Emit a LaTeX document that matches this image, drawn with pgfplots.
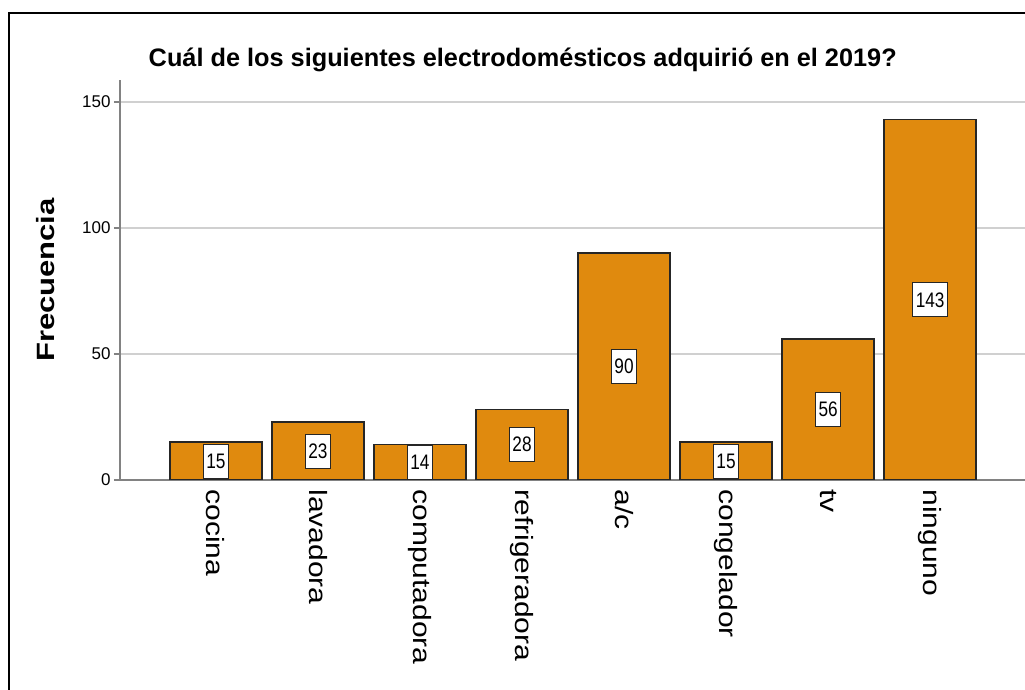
\documentclass[border=0pt]{standalone}
\usepackage{fontspec}
\setmainfont{Liberation Sans}
\newfontfamily\xlabfont[FakeStretch=1.2]{Liberation Sans}
\newfontfamily\boxfont[FakeStretch=0.82]{Liberation Sans}
\newfontfamily\ylabfont[FakeStretch=1.24,UprightFont=* Bold]{Liberation Sans}
\usepackage{pgfplots}
\pgfplotsset{compat=1.18}
\definecolor{barc}{RGB}{224,138,14}
\definecolor{gridc}{RGB}{208,208,208}
\definecolor{axc}{RGB}{130,130,130}
\begin{document}
\begin{tikzpicture}[x=1pt,y=1pt]
\begin{axis}[
  at={(120pt,210pt)}, anchor=south west,
  scale only axis, width=905pt, height=400pt,
  xmin=-0.94, xmax=7.93, ymin=0, ymax=158.7,
  axis x line*=bottom, axis y line*=left,
  axis line style={draw=axc, line width=1.5pt, -},
  ybar,
  ytick={0,50,100,150},
  ymajorgrids, grid style={gridc, line width=2.5pt},
  tick align=outside, major tick length=6pt,
  ytick style={draw=axc, line width=1.2pt},
  xtick style={draw=none},
  xtick={0,...,7},
  xticklabels={cocina,lavadora,computadora,refrigeradora,a/c,congelador,tv,ninguno},
  xticklabel style={rotate=-90, anchor=west, font=\xlabfont\fontsize{25}{28}\selectfont},
  yticklabel style={font=\fontsize{17}{20}\selectfont},
  /pgf/number format/assume math mode=true,
  title={Cuál de los siguientes electrodomésticos adquirió en el 2019?},
  title style={at={(axis description cs:0.445,1.0175)}, anchor=base, font=\bfseries\fontsize{25.3}{30}\selectfont},
  ylabel={Frecuencia},
  ylabel style={at={(axis description cs:-0.0818,0.5)}, anchor=center, font=\ylabfont\fontsize{25}{30}\selectfont},
]
\addplot[fill=barc, draw=black!85, line width=1.5pt, bar width=0.9,
  nodes near coords,
  visualization depends on={y \as \rawy},
  nodes near coords style={anchor=center, shift={(axis direction cs:0,-\rawy/2)}, fill=white, draw=black!85, line width=1pt, inner xsep=3pt, inner ysep=0pt, minimum height=34pt, font=\boxfont\fontsize{21}{24}\selectfont, text=black},
] coordinates {(0,15) (1,23) (2,14) (3,28) (4,90) (5,15) (6,56) (7,143)};
\end{axis}
\draw[line width=2pt, black] (9,0) -- (9,677) -- (1025,677);
\pgfresetboundingbox
\useasboundingbox (0,0) rectangle (1025,690);
\end{tikzpicture}
\end{document}
